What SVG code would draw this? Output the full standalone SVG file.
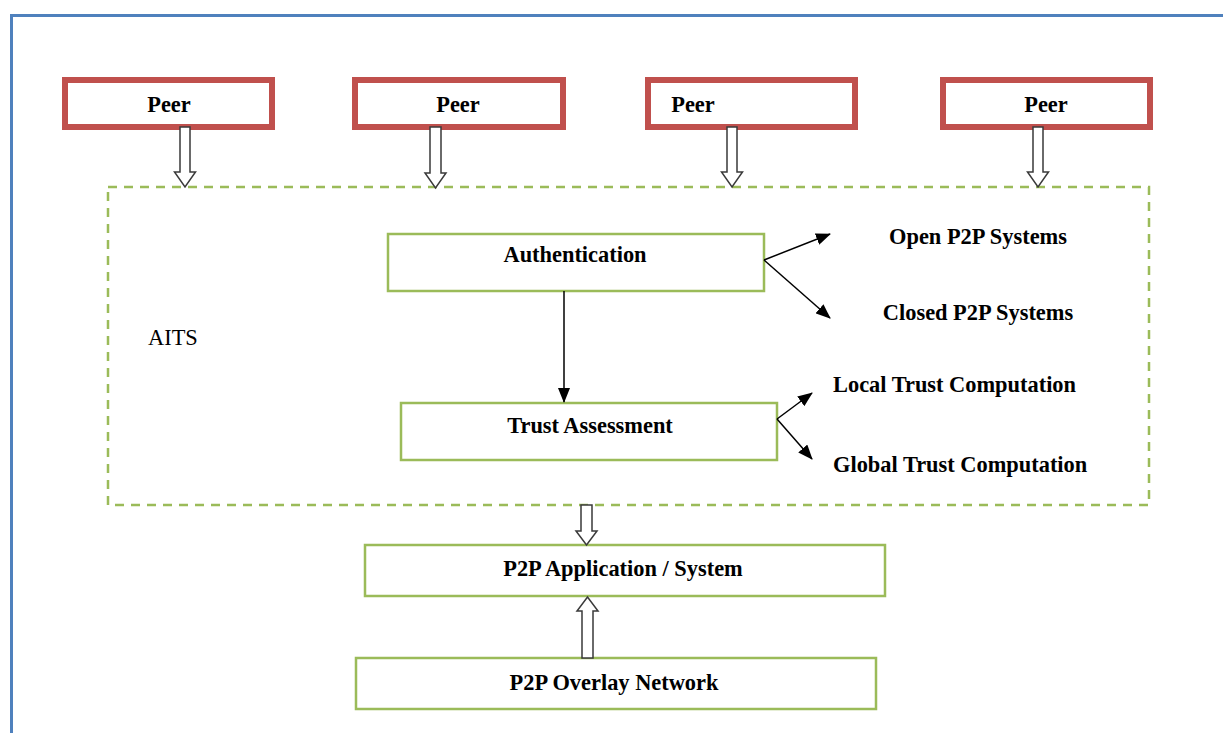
<svg xmlns="http://www.w3.org/2000/svg" width="1223" height="733" viewBox="0 0 1223 733">
<defs>
<style>
.frame{fill:none;stroke:#4F81BD;stroke-width:3}
.peer{fill:#fff;stroke:#C0504D;stroke-width:6}
.box{fill:#fff;stroke:#9BBB59;stroke-width:2.5}
.group{fill:none;stroke:#9BBB59;stroke-width:2.5;stroke-dasharray:9 7}
.hollow{fill:#fff;stroke:#3a3a3a;stroke-width:1.5;stroke-linejoin:miter}
.line{fill:none;stroke:#000;stroke-width:1.5}
text{font-family:"Liberation Serif","Times New Roman",serif;font-size:22.4px;fill:#000}
.b{font-weight:bold}
.c{text-anchor:middle}
</style>
<marker id="ah" markerWidth="15" markerHeight="12" refX="14" refY="6" orient="auto" markerUnits="userSpaceOnUse" viewBox="0 0 15 12">
<path d="M0,0 L15,6 L0,12 Z" fill="#000"/>
</marker>
</defs>
<rect x="0" y="0" width="1223" height="733" fill="#fff"/>
<path class="frame" d="M11.5,733 V15.5 H1223"/>

<g id="aits">
<rect class="group" x="108" y="187" width="1041" height="318"/>
<text x="148" y="345">AITS</text>
</g>

<g id="peer1"><rect class="peer" x="65" y="80" width="207" height="47"/><text class="b c" x="169" y="112">Peer</text></g>
<g id="peer2"><rect class="peer" x="355" y="80" width="208" height="47"/><text class="b c" x="458" y="112">Peer</text></g>
<g id="peer3"><rect class="peer" x="648" y="80" width="207" height="47"/><text class="b c" x="693" y="112">Peer</text></g>
<g id="peer4"><rect class="peer" x="943" y="80" width="207" height="47"/><text class="b c" x="1046" y="112">Peer</text></g>

<g id="auth"><rect class="box" x="388" y="234" width="376" height="57"/><text class="b c" x="575" y="262">Authentication</text></g>
<g id="trust"><rect class="box" x="401" y="403" width="376" height="57"/><text class="b c" x="590" y="433">Trust Assessment</text></g>
<g id="open"><text class="b c" x="978" y="244">Open P2P Systems</text></g>
<g id="closed"><text class="b c" x="978" y="320">Closed P2P Systems</text></g>
<g id="local"><text class="b" x="833" y="392">Local Trust Computation</text></g>
<g id="global"><text class="b" x="833" y="472">Global Trust Computation</text></g>
<g id="app"><rect class="box" x="365" y="545" width="520" height="51"/><text class="b c" x="623" y="576">P2P Application / System</text></g>
<g id="overlay"><rect class="box" x="356" y="658" width="520" height="51"/><text class="b c" x="614" y="690">P2P Overlay Network</text></g>

<g id="connectors">
<path class="hollow" d="M180,127 V172 H174.5 L185,187 L195.5,172 H190 V127 Z"/>
<path class="hollow" d="M430,127 V173 H425 L435.5,188 L446,173 H441 V127 Z"/>
<path class="hollow" d="M727,127 V172 H721.5 L732,187 L742.5,172 H737 V127 Z"/>
<path class="hollow" d="M1033,127 V172 H1027.5 L1038,187 L1048.5,172 H1043 V127 Z"/>
<path class="hollow" d="M581,505 V531 H576 L586.5,545 L597,531 H592 V505 Z"/>
<path class="hollow" d="M582,658 V611 H577 L587.5,597 L598,611 H593 V658 Z"/>
<line class="line" x1="564" y1="291" x2="564" y2="402" marker-end="url(#ah)"/>
<line class="line" x1="764" y1="260" x2="830" y2="234" marker-end="url(#ah)"/>
<line class="line" x1="764" y1="260" x2="830" y2="318" marker-end="url(#ah)"/>
<line class="line" x1="777" y1="419" x2="812" y2="393" marker-end="url(#ah)"/>
<line class="line" x1="777" y1="419" x2="812" y2="459" marker-end="url(#ah)"/>
</g>
</svg>
